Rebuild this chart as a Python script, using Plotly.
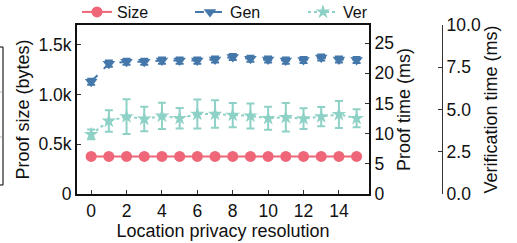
import plotly.graph_objects as go

resolution = list(range(16))
size_bytes = [378] * 16
gen_ms = [18.6, 21.6, 21.9, 21.9, 22.1, 22.1, 22.1, 22.3, 22.7, 22.4, 22.3, 22.1, 22.2, 22.6, 22.3, 22.2]
gen_err = [0.5] * 16
ver_ms = [3.53, 4.32, 4.58, 4.44, 4.62, 4.48, 4.73, 4.73, 4.67, 4.62, 4.48, 4.54, 4.46, 4.58, 4.71, 4.48]
ver_err = [0.29, 0.64, 1.03, 0.73, 0.78, 0.61, 0.86, 0.81, 0.72, 0.74, 0.68, 0.84, 0.61, 0.57, 0.80, 0.53]

size_ticks = [0, 500, 1000, 1500]
size_ticktext = ["0", "0.5k", "1.0k", "1.5k"]

C_SIZE = "#EE6677"
C_GEN = "#4477AA"
C_VER = "#8ED1C6"
FONT = "Liberation Sans, Arial, sans-serif"

fig = go.Figure()
fig.add_trace(go.Scatter(
    x=resolution, y=size_bytes, name="Size", mode="lines+markers",
    line=dict(color=C_SIZE, width=2),
    marker=dict(symbol="circle", size=11, color=C_SIZE),
    yaxis="y"))
fig.add_trace(go.Scatter(
    x=resolution, y=gen_ms, name="Gen", mode="lines+markers",
    line=dict(color=C_GEN, width=2, dash="dash"),
    marker=dict(symbol="triangle-down", size=11, color=C_GEN),
    error_y=dict(type="data", array=gen_err, color=C_GEN, thickness=2, width=4),
    yaxis="y2"))
fig.add_trace(go.Scatter(
    x=resolution, y=ver_ms, name="Ver", mode="lines+markers",
    line=dict(color=C_VER, width=2, dash="dot"),
    marker=dict(symbol="star", size=11, color=C_VER),
    error_y=dict(type="data", array=ver_err, color=C_VER, thickness=2, width=4),
    yaxis="y3"))

axis_common = dict(showgrid=False, zeroline=False, ticks="inside", ticklen=4,
                   tickwidth=1.2, tickcolor="#333",
                   tickfont=dict(size=17.5, color="#111", family=FONT),
                   title_font=dict(size=18, color="#111", family=FONT))

fig.update_layout(
    width=517, height=243,
    margin=dict(l=77, r=75, t=25, b=49, autoexpand=False),
    paper_bgcolor="white", plot_bgcolor="white",
    font=dict(family=FONT, size=16, color="#111"),
    showlegend=True,
    legend=dict(orientation="h", x=0.0, xanchor="left", y=(194 - 12) / 169.0, yanchor="middle",
                font=dict(size=16, family=FONT, color="#111"),
                entrywidth=68, itemwidth=30, bgcolor="rgba(0,0,0,0)",
                tracegroupgap=0),
    xaxis=dict(domain=[0, 0.8], range=[-0.8, 15.7], tickvals=list(range(0, 15, 2)),
               title=dict(text="Location privacy resolution", standoff=2),
               showline=True, linecolor="#111", linewidth=2, mirror=True,
               **axis_common),
    yaxis=dict(range=[0, 1700], tickvals=size_ticks, ticktext=size_ticktext,
               title=dict(text="Proof size (bytes)", standoff=4),
               showline=True, linecolor="#111", linewidth=2, **axis_common),
    yaxis2=dict(range=[0, 28], tickvals=[0, 5, 10, 15, 20, 25], overlaying="y",
                side="right", anchor="x",
                title=dict(text="Proof time (ms)", standoff=4),
                showline=True, linecolor="#111", linewidth=2, **axis_common),
    yaxis3=dict(range=[0, 10], tickvals=[0, 2.5, 5, 7.5, 10], tickformat=".1f",
                overlaying="y", side="right", anchor="free", position=1.0,
                title=dict(text="Verification time (ms)", standoff=4),
                showline=True, linecolor="#333", linewidth=1.2, **axis_common),
)

# fragment of neighbouring panel at the left edge
def px_x(p):
    return (p - 77) / 365.0

def px_y(p):
    return (194 - p) / 169.0

frag = dict(type="line", xref="paper", yref="paper", line=dict(color="#222", width=1.2))
fig.add_shape(x0=px_x(3), x1=px_x(3), y0=px_y(47), y1=px_y(185), **frag)
fig.add_shape(x0=px_x(-2), x1=px_x(3), y0=px_y(47), y1=px_y(47), **frag)
fig.add_shape(x0=px_x(-2), x1=px_x(3), y0=px_y(185), y1=px_y(185), **frag)
for yy in (92, 137):
    fig.add_shape(type="line", xref="paper", yref="paper", x0=px_x(-2), x1=px_x(2),
                  y0=px_y(yy), y1=px_y(yy), line=dict(color="#bbb", width=1))

fig.write_html("out.html", config={"displayModeBar": False},
               post_script="document.body.style.margin='0';document.body.style.padding='0';")
